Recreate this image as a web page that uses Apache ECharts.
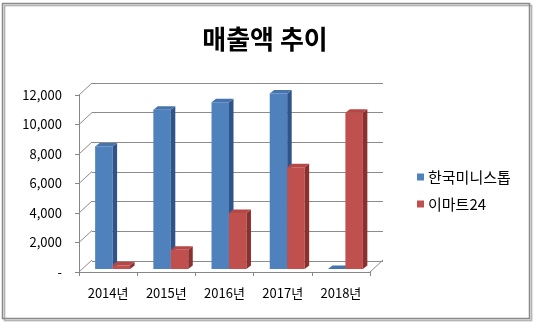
<!DOCTYPE html>
<html>
<head>
<meta charset="utf-8">
<script src="https://cdn.jsdelivr.net/npm/echarts@6/dist/echarts.min.js"></script>
<style>html,body{margin:0;padding:0;background:#fff}#c{width:535px;height:324px}</style>
</head>
<body>
<div id="c"></div>
<script>
const categories = ['2014년', '2015년', '2016년', '2017년', '2018년'];
const seriesNames = ['한국미니스톱', '이마트24'];
const ministopValues = [8300, 10800, 11300, 11900, 0];
const emart24Values = [250, 1300, 3800, 6900, 10600];
const yTicks = [0, 2000, 4000, 6000, 8000, 10000, 12000];
const titleText = '매출액 추이';

const FONT = "'Noto Sans CJK KR', 'Noto Sans', sans-serif";
const WALL_DX = 13, WALL_DY = -12;   // perspective offset front -> back wall
const FACE_DX = 4.5, FACE_DY = -3;   // bar front-face offset from front plane
const BAR_DX = 4.5, BAR_DY = -3.5;   // bar depth
const palettes = [
  {front: '#4F81BD', side: '#30548A', top: '#4674AE'},
  {front: '#C0504D', side: '#8A302E', top: '#B54846'}
];

function barRender(params, api) {
  const p = palettes[params.seriesIndex];
  const idx = api.value(0), v = api.value(1);
  const base = api.coord([idx, 0]);
  const topP = api.coord([idx, v]);
  const w = api.size([1, 0])[0] * 0.30;
  const c = base[0];
  const left = params.seriesIndex === 0 ? c + FACE_DX - w : c + FACE_DX;
  const yb = base[1] + FACE_DY, yt = topP[1] + FACE_DY;
  const children = [];
  if (yb - yt > 0.01) {
    children.push({type: 'rect', shape: {x: left, y: yt, width: w, height: yb - yt}, style: {fill: p.front}});
    children.push({type: 'polygon', shape: {points: [[left + w, yt], [left + w + BAR_DX, yt + BAR_DY], [left + w + BAR_DX, yb + BAR_DY], [left + w, yb]]}, style: {fill: p.side}});
  }
  children.push({type: 'polygon', shape: {points: [[left, yt], [left + BAR_DX, yt + BAR_DY], [left + w + BAR_DX, yt + BAR_DY], [left + w, yt]]}, style: {fill: p.top}});
  return {type: 'group', children: children};
}

function wallRender(params, api) {
  const cs = params.coordSys;
  const v = api.value(1);
  const y = api.coord([0, v])[1];
  const x0 = cs.x;
  const children = [{type: 'line', shape: {x1: x0, y1: y, x2: x0 + WALL_DX, y2: y + WALL_DY}, style: {stroke: '#8C8C8C', lineWidth: 1}}];
  if (v === 0) {
    const x1 = cs.x + cs.width;
    children.push({type: 'line', shape: {x1: x1, y1: y, x2: x1 + WALL_DX, y2: y + WALL_DY}, style: {stroke: '#8C8C8C', lineWidth: 1}});
  }
  return {type: 'group', children: children};
}

const chart = echarts.init(document.getElementById('c'), null, {renderer: 'canvas'});
chart.setOption({
  backgroundColor: '#fff',
  animation: false,
  textStyle: {fontFamily: FONT},
  graphic: [
    {type: 'rect', shape: {x: 2.5, y: 3.5, width: 527, height: 315}, style: {fill: 'none', stroke: '#8A8A8A', lineWidth: 1.5, shadowColor: 'rgba(0,0,0,0.35)', shadowOffsetX: 2, shadowOffsetY: 2, shadowBlur: 1}, z: 100},
    {type: 'text', x: 265, y: 39, style: {text: titleText, align: 'center', verticalAlign: 'middle', font: 'bold 26px ' + FONT, fill: '#000'}}
  ],
  legend: {
    data: seriesNames,
    orient: 'vertical',
    left: 417, top: 167,
    icon: 'rect', itemWidth: 7, itemHeight: 7, itemGap: 7,
    textStyle: {fontSize: 15, lineHeight: 20, color: '#000', fontFamily: FONT, padding: [0, 0, 0, -1]},
    padding: 0
  },
  grid: [
    {left: 79, top: 95, width: 291, height: 177},
    {left: 92, top: 83, width: 291, height: 178}
  ],
  xAxis: [
    {type: 'category', gridIndex: 0, data: categories, boundaryGap: true,
     axisLine: {show: true, lineStyle: {color: '#868686', width: 1}},
     axisTick: {show: true, length: 4, lineStyle: {color: '#868686'}},
     axisLabel: {fontSize: 13, color: '#000', margin: 15, fontFamily: FONT}},
    {type: 'category', gridIndex: 1, data: categories, show: false}
  ],
  yAxis: [
    {type: 'value', gridIndex: 0, min: 0, max: 12000, interval: 2000,
     axisLine: {show: true, lineStyle: {color: '#868686', width: 1}},
     axisTick: {show: true, inside: false, length: 4, lineStyle: {color: '#868686'}},
     splitLine: {show: false},
     axisLabel: {fontSize: 13, color: '#000', margin: 17, fontFamily: FONT,
       formatter: v => v === 0 ? '-' : v.toLocaleString('en-US')}},
    {type: 'value', gridIndex: 1, min: 0, max: 12000, interval: 2000,
     axisLine: {show: false}, axisTick: {show: false}, axisLabel: {show: false},
     splitLine: {show: true, lineStyle: {color: '#8C8C8C', width: 1}}}
  ],
  series: [
    {name: seriesNames[0], type: 'custom', xAxisIndex: 0, yAxisIndex: 0, renderItem: barRender,
     itemStyle: {color: palettes[0].front}, encode: {x: 0, y: 1}, z: 5,
     data: ministopValues.map((v, i) => [i, v])},
    {name: seriesNames[1], type: 'custom', xAxisIndex: 0, yAxisIndex: 0, renderItem: barRender,
     itemStyle: {color: palettes[1].front}, encode: {x: 0, y: 1}, z: 5,
     data: emart24Values.map((v, i) => [i, v])},
    {name: 'wall', type: 'custom', xAxisIndex: 0, yAxisIndex: 0, renderItem: wallRender, silent: true, z: 1,
     encode: {x: 0, y: 1}, data: yTicks.map(v => [0, v])}
  ]
});
</script>
</body>
</html>
